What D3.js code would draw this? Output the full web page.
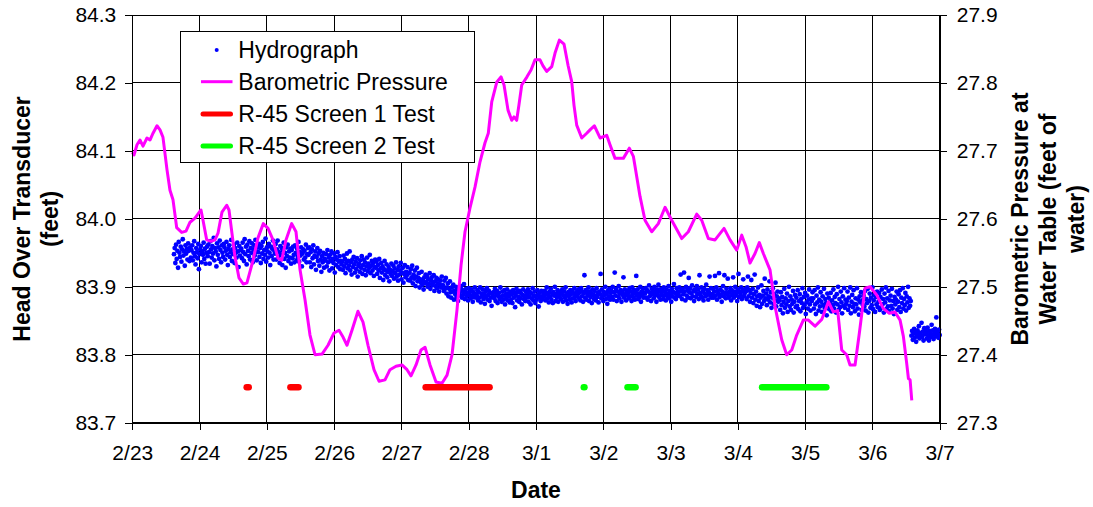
<!DOCTYPE html>
<html>
<head>
<meta charset="utf-8">
<script src="https://cdn.jsdelivr.net/npm/d3@7"></script>
<style>
  body { margin: 0; background: #fff; }
  text { font-family: Arial, "Liberation Sans", sans-serif; fill: #000; }
</style>
</head>
<body>
<svg id="chart" width="1093" height="507"></svg>
<script>
// x values are days after 2/23 00:00
const dateLabels = ["2/23","2/24","2/25","2/26","2/27","2/28","3/1","3/2","3/3","3/4","3/5","3/6","3/7"];
const headTicks = [83.7, 83.8, 83.9, 84.0, 84.1, 84.2, 84.3];
const baroTicks = [27.3, 27.4, 27.5, 27.6, 27.7, 27.8, 27.9];

const baroDays = [0.00,0.025,0.07,0.114,0.159,0.218,0.263,0.308,0.367,0.412,0.456,0.516,0.560,0.605,0.660,0.734,0.798,0.858,0.932,0.991,
  1.021,1.051,1.106,1.170,1.229,1.274,1.333,1.403,1.437,1.526,1.586,1.650,1.705,1.794,1.868,1.947,2.017,2.091,2.166,2.221,
  2.284,2.369,2.433,2.493,2.567,2.641,2.716,2.820,2.909,2.998,3.072,3.132,3.191,3.265,3.354,3.429,3.503,3.592,3.667,3.756,
  3.830,3.919,4.008,4.083,4.142,4.217,4.291,4.351,4.425,4.514,4.603,4.678,4.752,4.826,4.886,4.945,5.019,5.094,5.168,5.242,
  5.291,5.342,5.416,5.480,5.525,5.584,5.639,5.673,5.713,5.747,5.788,5.866,5.926,5.985,6.060,6.104,6.159,6.234,6.283,6.347,
  6.417,6.476,6.531,6.565,6.605,6.680,6.754,6.803,6.867,6.952,7.051,7.100,7.175,7.298,7.387,7.447,7.546,7.620,7.720,7.818,
  7.918,8.017,8.166,8.264,8.389,8.463,8.561,8.661,8.795,8.884,8.983,9.058,9.121,9.181,9.255,9.319,9.379,9.478,9.553,9.652,
  9.726,9.801,9.875,9.973,10.048,10.147,10.247,10.345,10.419,10.484,10.544,10.618,10.667,10.742,10.806,10.890,10.965,11.064,11.162,11.251,
  11.336,11.411,11.460,11.510,11.535,11.560,11.585];
const baroValues = [27.698,27.694,27.709,27.716,27.707,27.719,27.716,27.726,27.737,27.731,27.720,27.672,27.642,27.628,27.587,27.580,27.582,27.595,27.601,27.609,
  27.613,27.598,27.569,27.567,27.569,27.579,27.610,27.620,27.613,27.544,27.513,27.504,27.506,27.539,27.572,27.593,27.586,27.569,27.542,27.539,
  27.569,27.593,27.581,27.525,27.481,27.429,27.400,27.401,27.414,27.432,27.436,27.426,27.414,27.436,27.464,27.448,27.414,27.378,27.361,27.363,
  27.378,27.383,27.385,27.378,27.369,27.385,27.407,27.411,27.385,27.360,27.358,27.370,27.400,27.466,27.532,27.581,27.616,27.647,27.684,27.712,
  27.726,27.772,27.801,27.809,27.797,27.760,27.745,27.750,27.745,27.768,27.797,27.809,27.819,27.834,27.834,27.825,27.817,27.824,27.844,27.863,
  27.857,27.826,27.802,27.767,27.738,27.719,27.726,27.731,27.737,27.719,27.723,27.709,27.689,27.689,27.704,27.692,27.633,27.598,27.581,27.593,
  27.617,27.598,27.571,27.581,27.607,27.598,27.571,27.569,27.586,27.569,27.554,27.576,27.559,27.535,27.549,27.565,27.549,27.525,27.471,27.422,
  27.400,27.407,27.429,27.451,27.451,27.442,27.452,27.478,27.463,27.465,27.407,27.400,27.385,27.385,27.432,27.498,27.500,27.488,27.468,27.461,
  27.463,27.451,27.427,27.387,27.365,27.363,27.333];

// hydrograph readings, one every hydroStep days from hydroStart
const hydroStart = 0.62, hydroStep = 0.01;
const hydroValues = [
  83.948,83.957,83.935,83.962,83.941,83.953,83.928,83.966,83.950,83.944,83.959,83.937,83.955,83.970,83.946,83.952,83.931,83.961,83.949,83.956,83.940,83.964,83.953,83.938,83.958,
  83.943,83.954,83.961,83.939,83.950,83.967,83.945,83.933,83.957,83.951,83.942,83.963,83.926,83.948,83.955,83.960,83.936,83.952,83.947,83.965,83.941,83.956,83.934,83.950,83.959,
  83.945,83.962,83.951,83.934,83.967,83.955,83.943,83.960,83.949,83.972,83.939,83.957,83.952,83.930,83.964,83.947,83.958,83.941,83.968,83.954,83.936,83.961,83.950,83.944,83.963,
  83.958,83.940,83.953,83.966,83.947,83.932,83.956,83.961,83.944,83.951,83.969,83.938,83.955,83.948,83.962,83.935,83.957,83.950,83.943,83.965,83.952,83.929,83.960,83.946,83.954,
  83.956,83.942,83.965,83.951,83.938,83.970,83.948,83.959,83.933,83.962,83.953,83.945,83.967,83.940,83.957,83.950,83.964,83.936,83.955,83.961,83.946,83.969,83.952,83.939,83.958,
  83.951,83.963,83.944,83.957,83.935,83.960,83.949,83.966,83.941,83.954,83.947,83.971,83.937,83.958,83.952,83.943,83.963,83.950,83.932,83.959,83.945,83.956,83.968,83.940,83.953,
  83.949,83.963,83.940,83.955,83.968,83.944,83.951,83.935,83.960,83.947,83.957,83.932,83.953,83.965,83.941,83.950,83.928,83.958,83.945,83.962,83.938,83.952,83.943,83.956,83.934,
  83.954,83.942,83.959,83.947,83.936,83.961,83.950,83.939,83.956,83.944,83.966,83.937,83.951,83.946,83.958,83.930,83.949,83.955,83.940,83.953,83.943,83.962,83.936,83.948,83.957,
  83.947,83.958,83.936,83.951,83.929,83.955,83.942,83.961,83.933,83.946,83.952,83.925,83.944,83.957,83.938,83.949,83.931,83.953,83.940,83.922,83.945,83.936,83.950,83.928,83.941,
  83.939,83.948,83.930,83.954,83.936,83.943,83.924,83.947,83.938,83.952,83.927,83.941,83.935,83.949,83.921,83.944,83.932,83.940,83.951,83.929,83.937,83.945,83.926,83.938,83.933,
  83.937,83.925,83.946,83.930,83.941,83.920,83.935,83.949,83.927,83.938,83.931,83.952,83.924,83.936,83.918,83.940,83.929,83.944,83.933,83.921,83.937,83.926,83.942,83.915,83.931,
  83.934,83.922,83.939,83.928,83.945,83.919,83.932,83.940,83.925,83.936,83.917,83.930,83.943,83.923,83.934,83.928,83.947,83.920,83.931,83.938,83.924,83.935,83.916,83.929,83.940,
  83.928,83.937,83.919,83.932,83.924,83.941,83.913,83.927,83.935,83.921,83.930,83.910,83.926,83.938,83.917,83.924,83.933,83.914,83.922,83.929,83.908,83.925,83.919,83.934,83.916,
  83.923,83.931,83.912,83.927,83.920,83.936,83.915,83.925,83.909,83.930,83.918,83.924,83.935,83.911,83.921,83.928,83.906,83.919,83.932,83.914,83.922,83.917,83.929,83.910,83.920,
  83.921,83.909,83.926,83.914,83.931,83.905,83.918,83.912,83.924,83.901,83.915,83.928,83.908,83.913,83.920,83.899,83.911,83.906,83.922,83.903,83.910,83.896,83.914,83.905,83.918,
  83.907,83.915,83.900,83.911,83.904,83.920,83.897,83.909,83.914,83.902,83.906,83.917,83.894,83.908,83.901,83.913,83.898,83.905,83.911,83.893,83.903,83.909,83.899,83.915,83.902,
  83.902,83.894,83.909,83.897,83.913,83.890,83.899,83.905,83.886,83.897,83.908,83.892,83.884,83.899,83.893,83.903,83.881,83.894,83.889,83.900,83.885,83.896,83.879,83.891,83.898,
  83.893,83.887,83.901,83.884,83.895,83.889,83.904,83.882,83.892,83.897,83.886,83.891,83.880,83.898,83.888,83.893,83.883,83.896,83.887,83.878,83.892,83.885,83.899,83.889,83.884,
  83.887,83.895,83.880,83.892,83.884,83.899,83.877,83.890,83.886,83.896,83.882,83.889,83.875,83.893,83.885,83.898,83.881,83.888,83.894,83.879,83.891,83.884,83.872,83.890,83.886,
  83.892,83.883,83.897,83.879,83.888,83.894,83.876,83.886,83.891,83.882,83.899,83.885,83.878,83.893,83.887,83.881,83.895,83.874,83.889,83.884,83.896,83.880,83.890,83.886,83.877,
  83.893,83.881,83.889,83.876,83.895,83.884,83.891,83.870,83.887,83.897,83.880,83.892,83.885,83.878,83.894,83.883,83.890,83.874,83.888,83.896,83.882,83.887,83.879,83.893,83.884,
  83.889,83.896,83.878,83.885,83.892,83.874,83.890,83.883,83.898,83.880,83.887,83.893,83.876,83.886,83.881,83.895,83.888,83.871,83.891,83.884,83.879,83.894,83.886,83.882,83.890,
  83.886,83.894,83.880,83.891,83.899,83.883,83.888,83.877,83.893,83.885,83.897,83.881,83.890,83.876,83.892,83.887,83.900,83.879,83.889,83.884,83.895,83.878,83.891,83.886,83.893,
  83.882,83.890,83.896,83.878,83.887,83.893,83.884,83.899,83.880,83.888,83.875,83.892,83.886,83.881,83.895,83.889,83.877,83.894,83.883,83.890,83.898,83.885,83.879,83.892,83.887,
  83.889,83.896,83.883,83.892,83.880,83.898,83.886,83.893,83.878,83.890,83.917,83.884,83.895,83.881,83.891,83.887,83.899,83.879,83.893,83.885,83.890,83.876,83.896,83.888,83.882,
  83.894,83.887,83.880,83.898,83.885,83.891,83.877,83.893,83.889,83.919,83.883,83.896,83.886,83.879,83.892,83.888,83.900,83.882,83.890,83.875,83.894,83.886,83.897,83.881,83.891,
  83.894,83.885,83.900,83.881,83.892,83.921,83.887,83.897,83.879,83.893,83.886,83.901,83.883,83.890,83.895,83.878,83.892,83.888,83.914,83.884,83.896,83.889,83.880,83.894,83.887,
  83.891,83.883,83.898,83.886,83.893,83.879,83.899,83.889,83.884,83.895,83.881,83.892,83.916,83.887,83.896,83.882,83.890,83.885,83.900,83.878,83.893,83.888,83.897,83.884,83.891,
  83.890,83.898,83.884,83.895,83.881,83.893,83.902,83.886,83.891,83.879,83.897,83.889,83.894,83.883,83.900,83.887,83.892,83.878,83.896,83.888,83.903,83.885,83.893,83.881,83.897,
  83.888,83.894,83.882,83.899,83.887,83.892,83.880,83.896,83.890,83.885,83.901,83.883,83.894,83.889,83.878,83.897,83.886,83.892,83.904,83.884,83.891,83.882,83.898,83.887,83.893,
  83.891,83.899,83.886,83.918,83.894,83.882,83.897,83.889,83.921,83.893,83.880,83.900,83.887,83.895,83.884,83.913,83.892,83.898,83.883,83.890,83.902,83.886,83.894,83.879,83.896,
  83.893,83.885,83.901,83.889,83.896,83.882,83.917,83.891,83.887,83.899,83.884,83.893,83.880,83.897,83.890,83.886,83.903,83.888,83.895,83.881,83.892,83.915,83.887,83.898,83.884,
  83.889,83.897,83.884,83.893,83.916,83.887,83.899,83.881,83.894,83.890,83.920,83.885,83.896,83.888,83.878,83.893,83.901,83.886,83.917,83.891,83.883,83.897,83.889,83.912,83.884,
  83.892,83.886,83.898,83.880,83.895,83.889,83.914,83.884,83.893,83.900,83.887,83.891,83.879,83.896,83.919,83.885,83.892,83.888,83.899,83.882,83.894,83.911,83.886,83.890,83.897,
  83.893,83.882,83.899,83.915,83.886,83.895,83.878,83.891,83.910,83.884,83.897,83.876,83.889,83.918,83.881,83.893,83.872,83.886,83.899,83.879,83.888,83.870,83.884,83.902,83.875,
  83.887,83.894,83.879,83.912,83.883,83.890,83.873,83.896,83.881,83.886,83.908,83.877,83.892,83.869,83.884,83.898,83.875,83.889,83.880,83.906,83.871,83.886,83.893,83.878,83.883,
  83.880,83.866,83.892,83.873,83.885,83.861,83.878,83.897,83.869,83.883,83.874,83.890,83.863,83.879,83.900,83.871,83.886,83.866,83.881,83.875,83.894,83.862,83.878,83.888,83.870,
  83.884,83.872,83.895,83.867,83.879,83.889,83.864,83.882,83.876,83.898,83.869,83.885,83.873,83.891,83.860,83.877,83.887,83.868,83.881,83.896,83.874,83.865,83.883,83.879,83.892,
  83.883,83.868,83.895,83.874,83.860,83.887,83.877,83.899,83.865,83.881,83.871,83.892,83.878,83.863,83.886,83.873,83.897,83.869,83.882,83.876,83.858,83.890,83.872,83.884,83.867,
  83.878,83.891,83.864,83.880,83.873,83.896,83.868,83.885,83.876,83.862,83.889,83.874,83.900,83.866,83.882,83.870,83.893,83.877,83.861,83.886,83.872,83.898,83.869,83.881,83.875,
  83.879,83.893,83.866,83.884,83.872,83.899,83.861,83.878,83.888,83.870,83.895,83.875,83.864,83.883,83.874,83.898,83.868,83.881,83.859,83.886,83.877,83.892,83.866,83.880,83.873,
  83.887,83.871,83.894,83.865,83.882,83.876,83.897,83.862,83.879,83.890,83.869,83.884,83.873,83.899,83.867,83.880,83.888,83.863,83.885,83.874,83.893,83.870,83.878,83.891,83.866,
  83.885,83.869,83.896,83.874,83.882,83.862,83.890,83.877,83.899,83.867,83.883,83.871,83.894,83.864,83.880,83.887,83.872,83.897,83.868,83.879,83.860,83.885,83.874,
  83.881,83.893,83.866,83.878,83.889,83.870,83.895,83.863,83.884,83.876,83.898,83.868,83.882,83.873,83.891,83.865,83.886,83.877,83.900,83.869,83.883,83.872,83.879,
  83.828,83.835,83.822,83.831,83.838,83.825,83.833,83.819,83.830,83.836,83.827,83.842,83.824,83.832,83.829,83.847,83.826,83.834,83.821,83.839,83.830,83.836,
  83.833,83.824,83.840,83.828,83.821,83.835,83.831,83.826,83.844,83.829,83.836,83.823,83.832,83.838,83.827,83.855,83.830,83.834,83.825,83.837,83.829];

// test periods [start, end] in days, plotted at testLevel on the head axis
const screen1Tests = [[1.70, 1.73], [2.35, 2.47], [4.36, 5.31]];
const screen2Tests = [[6.71, 6.72], [7.36, 7.48], [9.36, 10.315]];
const testLevel = 83.752;

const legendLabels = ["Hydrograph", "Barometric Pressure", "R-45 Screen 1 Test", "R-45 Screen 2 Test"];

const svg = d3.select("#chart");
const plotLeft = 132.3, plotRight = 939.7, plotTop = 15, plotBottom = 422.7;

const x = d3.scaleLinear().domain([0, 12]).range([plotLeft, plotRight]);
const yHead = d3.scaleLinear().domain([83.7, 84.3]).range([plotBottom, plotTop]);
const yBaro = d3.scaleLinear().domain([27.3, 27.9]).range([plotBottom, plotTop]);

// grid
const grid = svg.append("g").attr("shape-rendering", "crispEdges");
grid.selectAll(".hg").data(headTicks).enter().append("line")
  .attr("x1", plotLeft).attr("x2", plotRight)
  .attr("y1", d => yHead(d)).attr("y2", d => yHead(d))
  .attr("stroke", "#000").attr("stroke-width", 1);
grid.selectAll(".vg").data(d3.range(dateLabels.length)).enter().append("line")
  .attr("x1", d => x(d)).attr("x2", d => x(d))
  .attr("y1", plotTop).attr("y2", plotBottom)
  .attr("stroke", "#000").attr("stroke-width", 1);

// hydrograph dots
svg.append("g").selectAll("circle")
  .data(hydroValues)
  .enter().append("circle")
  .attr("cx", (d, i) => x(hydroStart + i * hydroStep))
  .attr("cy", d => yHead(d))
  .attr("r", 2.4)
  .attr("fill", "#0000ff");

// barometric pressure
const baroLine = d3.line()
  .x((d, i) => x(baroDays[i]))
  .y(d => yBaro(d));
svg.append("path")
  .datum(baroValues)
  .attr("d", baroLine)
  .attr("fill", "none")
  .attr("stroke", "#ff00ff")
  .attr("stroke-width", 3)
  .attr("stroke-linejoin", "round");

// test bars
function drawTests(tests, color) {
  svg.append("g").selectAll("line")
    .data(tests)
    .enter().append("line")
    .attr("x1", d => x(d[0])).attr("x2", d => x(d[1]))
    .attr("y1", yHead(testLevel)).attr("y2", yHead(testLevel))
    .attr("stroke", color)
    .attr("stroke-width", 6.5)
    .attr("stroke-linecap", "round");
}
drawTests(screen1Tests, "#ff0000");
drawTests(screen2Tests, "#00ff00");

// axes
const axL = svg.append("g").attr("transform", "translate(" + plotLeft + ",0)")
  .call(d3.axisLeft(yHead).tickValues(headTicks).tickFormat(d3.format(".1f")).tickSize(7).tickSizeOuter(0).tickPadding(9));
const axR = svg.append("g").attr("transform", "translate(" + plotRight + ",0)")
  .call(d3.axisRight(yBaro).tickValues(baroTicks).tickFormat(d3.format(".1f")).tickSize(7).tickSizeOuter(0).tickPadding(10));
const axB = svg.append("g").attr("transform", "translate(0," + plotBottom + ")")
  .call(d3.axisBottom(x).tickValues(d3.range(dateLabels.length)).tickFormat(i => dateLabels[i]).tickSize(7).tickSizeOuter(0).tickPadding(15));
[axL, axR, axB].forEach(a => {
  a.selectAll("text").attr("font-size", 21).attr("font-family", "Arial, 'Liberation Sans', sans-serif").attr("fill", "#000");
  a.selectAll("line, path").attr("stroke", "#000").attr("shape-rendering", "crispEdges");
});

// axis titles
svg.append("text").attr("x", (plotLeft + plotRight) / 2).attr("y", 498)
  .attr("text-anchor", "middle").attr("font-size", 23).attr("font-weight", "bold").text("Date");

const leftTitle = ["Head Over Transducer", "(feet)"];
svg.append("g").selectAll("text").data(leftTitle).enter().append("text")
  .attr("transform", (d, i) => "translate(" + (30 + i * 28) + ",219) rotate(-90)")
  .attr("text-anchor", "middle").attr("font-size", 23).attr("font-weight", "bold")
  .text(d => d);

const rightTitle = ["Barometric Pressure at", "Water Table (feet of", "water)"];
svg.append("g").selectAll("text").data(rightTitle).enter().append("text")
  .attr("transform", (d, i) => "translate(" + (1028 + i * 28) + ",219) rotate(-90)")
  .attr("text-anchor", "middle").attr("font-size", 23).attr("font-weight", "bold")
  .text(d => d);

// legend
const lg = svg.append("g");
lg.append("rect").attr("x", 180.5).attr("y", 31.5).attr("width", 294).attr("height", 131)
  .attr("fill", "#fff").attr("stroke", "#000").attr("stroke-width", 1);
const rowY = [50, 81.7, 114, 146];
lg.append("circle").attr("cx", 216.7).attr("cy", rowY[0]).attr("r", 2).attr("fill", "#0000ff");
lg.append("line").attr("x1", 201).attr("x2", 232.5).attr("y1", rowY[1]).attr("y2", rowY[1])
  .attr("stroke", "#ff00ff").attr("stroke-width", 3);
lg.append("line").attr("x1", 203).attr("x2", 230.5).attr("y1", rowY[2]).attr("y2", rowY[2])
  .attr("stroke", "#ff0000").attr("stroke-width", 5).attr("stroke-linecap", "round");
lg.append("line").attr("x1", 203).attr("x2", 230.5).attr("y1", rowY[3]).attr("y2", rowY[3])
  .attr("stroke", "#00ff00").attr("stroke-width", 5).attr("stroke-linecap", "round");
lg.selectAll(".lt").data(legendLabels).enter().append("text")
  .attr("x", 238.3).attr("y", (d, i) => rowY[i] + 8)
  .attr("font-size", 23)
  .text(d => d);
</script>
</body>
</html>
